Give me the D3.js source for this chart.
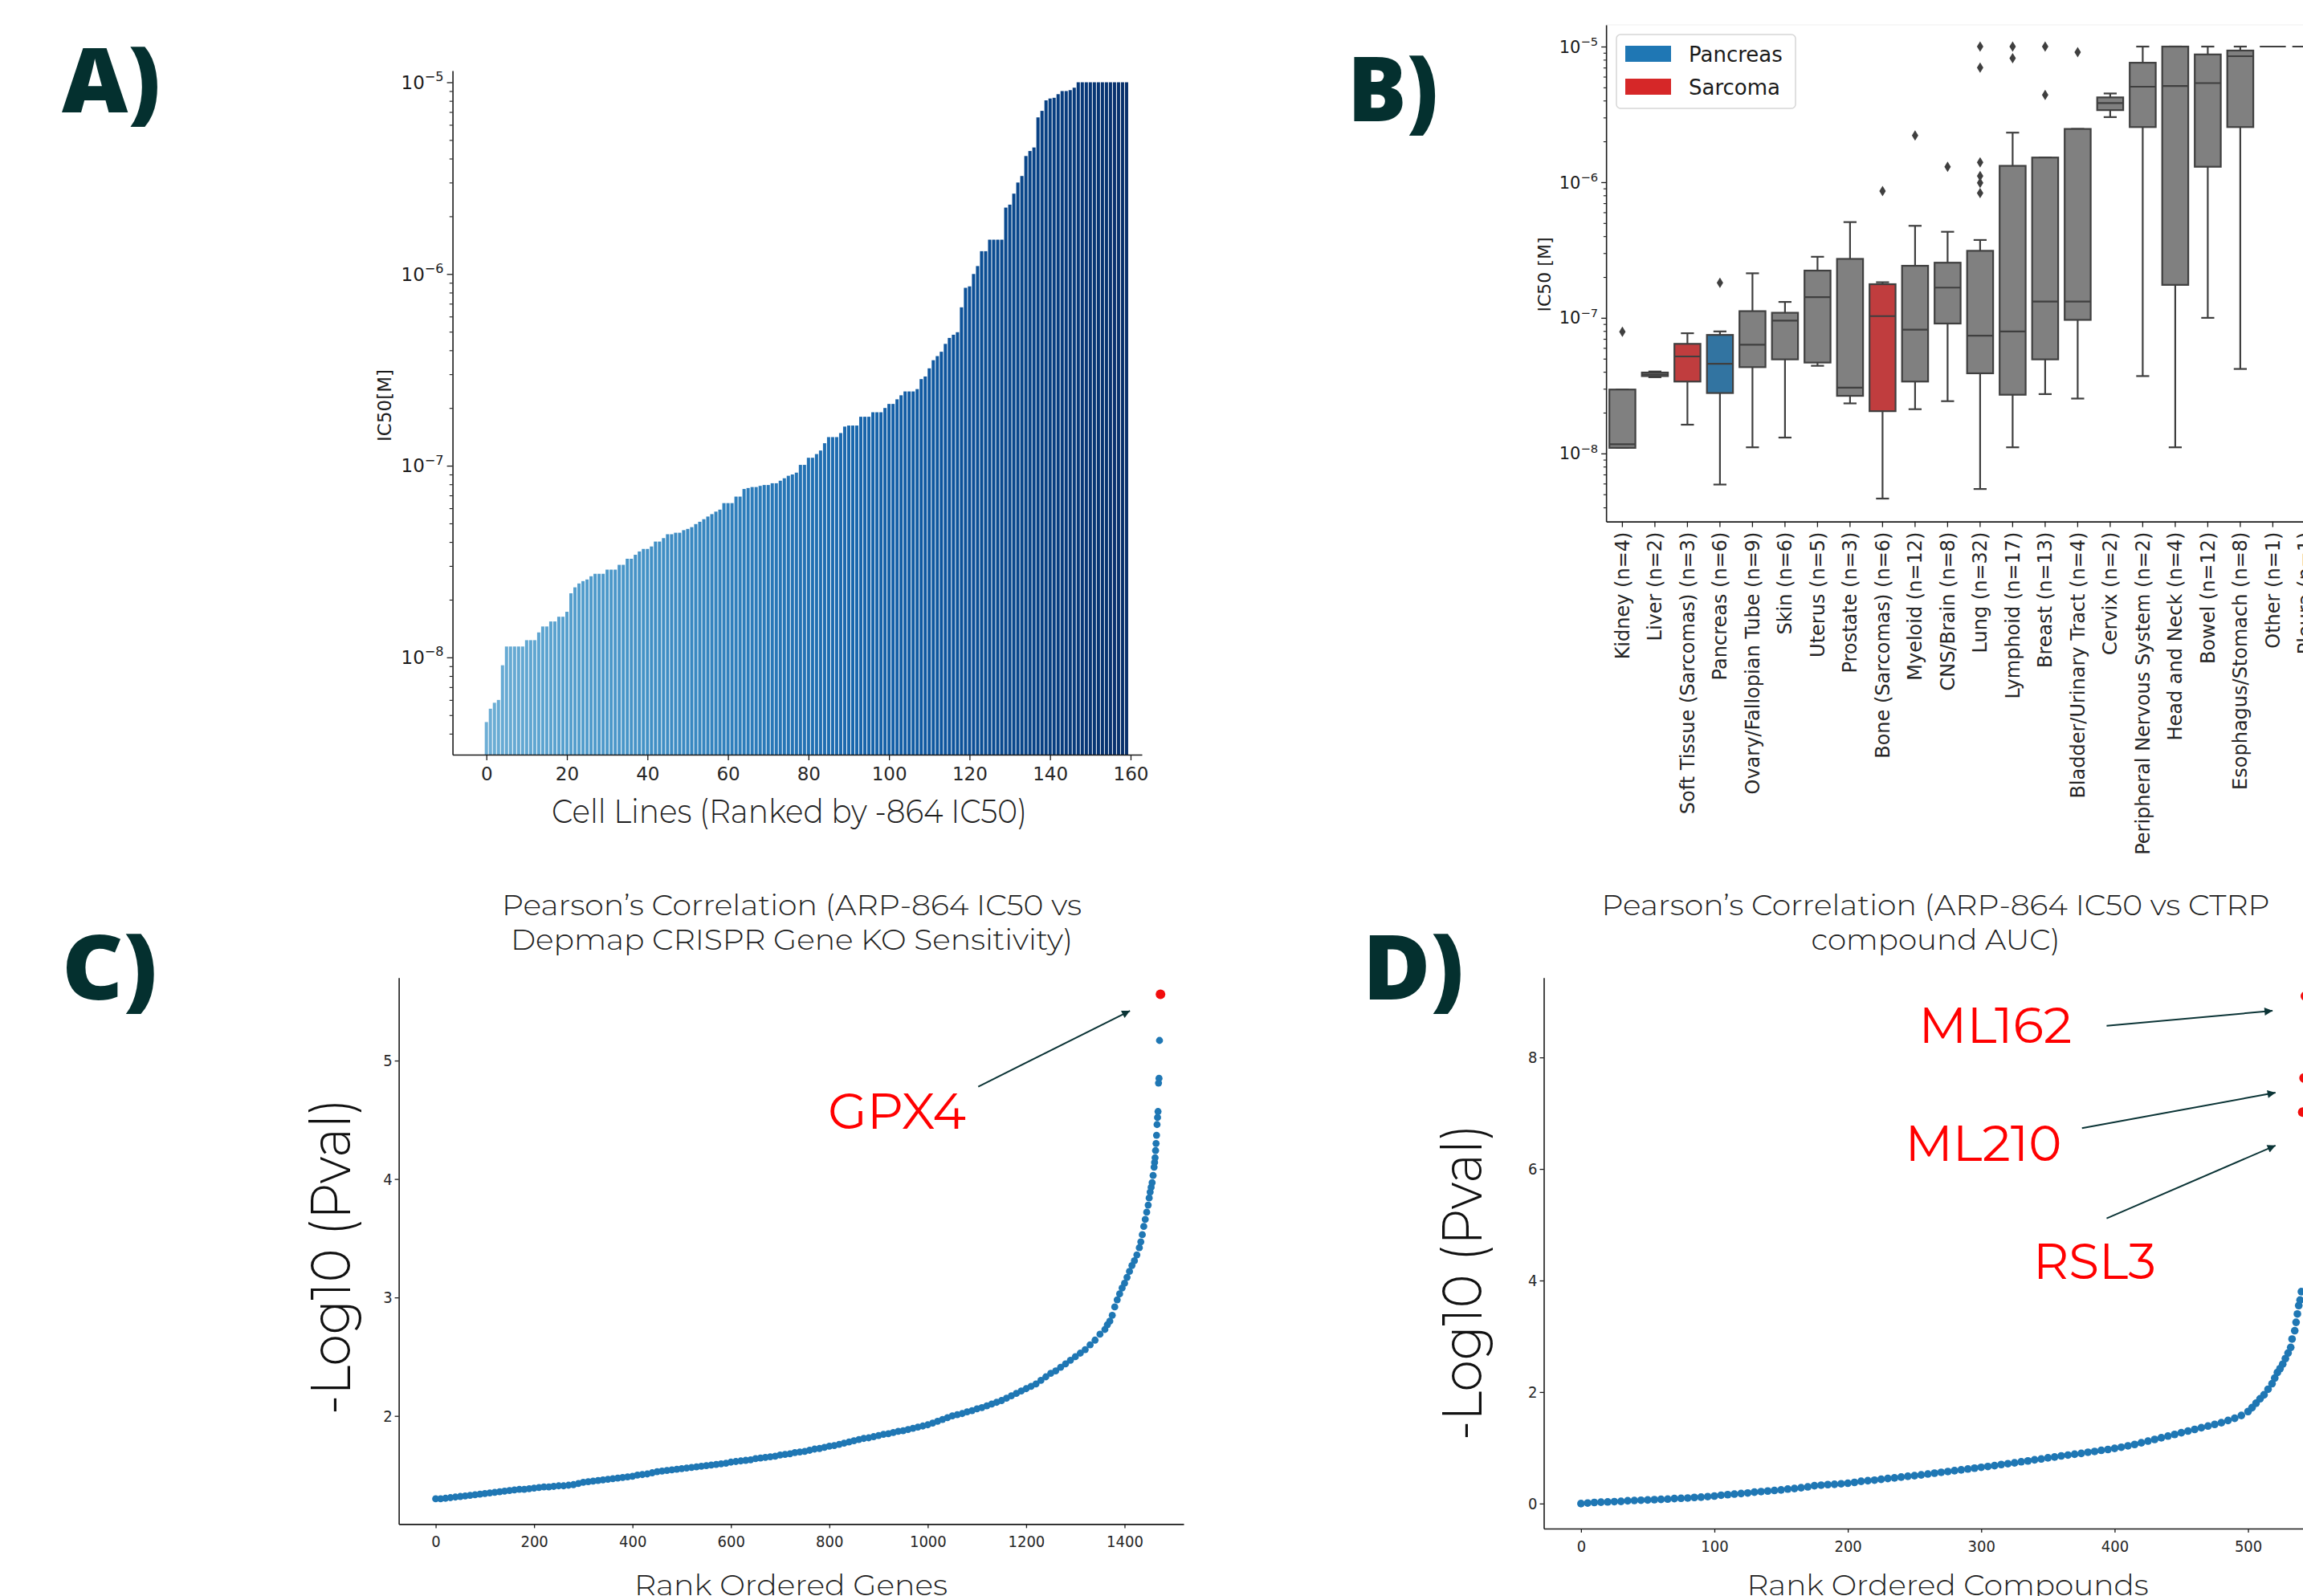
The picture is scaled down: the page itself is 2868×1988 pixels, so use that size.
<!DOCTYPE html>
<html>
<head>
<meta charset="utf-8">
<script src="https://cdn.jsdelivr.net/npm/d3@7"></script>
<style>
  body { margin: 0; background: #fff; }
  svg { display: block; }
</style>
</head>
<body>
<svg id="fig" width="2868" height="1988"></svg>
<script>
// ---------------- data ----------------

// A) IC50 per cell line, ranked (nM)
var cellLineIC50nM = [
  4.6, 5.4, 5.8, 6.0, 9.1, 11.4, 11.4, 11.4, 11.4, 11.4,
  12.3, 12.3, 12.3, 13.5, 14.5, 14.5, 15.4, 15.4, 16.3, 16.3,
  17.3, 21.6, 23.2, 24.3, 25.0, 25.5, 26.5, 27.3, 27.3, 27.3,
  28.7, 28.7, 28.7, 30.4, 30.4, 32.7, 32.7, 34.3, 35.7, 36.8,
  36.8, 37.9, 40.2, 40.2, 41.9, 43.9, 43.9, 44.7, 44.7, 46.1,
  46.8, 47.8, 49.6, 51.0, 52.6, 54.3, 55.9, 57.6, 59.0, 63.8,
  63.8, 63.8, 69.0, 69.0, 75.6, 76.5, 77.4, 77.4, 78.5, 79.3,
  79.3, 81.0, 81.0, 83.5, 86.0, 88.6, 90.0, 92.0, 101, 101,
  110, 110, 115, 120, 131, 141, 141, 141, 148, 160,
  162, 162, 162, 180, 180, 180, 190, 190, 190, 200,
  210, 210, 222, 233, 244, 244, 244, 251, 283, 292,
  322, 355, 373, 393, 432, 464, 482, 497, 670, 847,
  862, 1000, 1100, 1315, 1315, 1510, 1510, 1510, 1510, 2220,
  2300, 2625, 3000, 3245, 4125, 4380, 4570, 6560, 7095, 8050,
  8230, 8300, 8670, 9000, 9000, 9100, 9370, 10000, 10000, 10000,
  10000, 10000, 10000, 10000, 10000, 10000, 10000, 10000, 10000, 10000
];
var cellLineTicks = [0, 20, 40, 60, 80, 100, 120, 140, 160];

// B) IC50 by tissue (M)
var tissues = ["Kidney", "Liver", "Soft Tissue (Sarcomas)", "Pancreas", "Ovary/Fallopian Tube",
  "Skin", "Uterus", "Prostate", "Bone (Sarcomas)", "Myeloid", "CNS/Brain", "Lung", "Lymphoid",
  "Breast", "Bladder/Urinary Tract", "Cervix", "Peripheral Nervous System", "Head and Neck",
  "Bowel", "Esophagus/Stomach", "Other", "Pleura"];
var tissueN = [4, 2, 3, 6, 9, 6, 5, 3, 6, 12, 8, 32, 17, 13, 4, 2, 2, 4, 12, 8, 1, 1];
var tissueGroup = ["other", "other", "Sarcoma", "Pancreas", "other", "other", "other", "other",
  "Sarcoma", "other", "other", "other", "other", "other", "other", "other", "other", "other",
  "other", "other", "other", "other"];
var boxLow  = [1.10e-8, 3.65e-8, 1.63e-8, 5.9e-9, 1.11e-8, 1.31e-8, 4.43e-8, 2.34e-8, 4.65e-9, 2.12e-8,
  2.43e-8, 5.47e-9, 1.11e-8, 2.74e-8, 2.54e-8, 3.02e-6, 3.72e-8, 1.11e-8, 1.0e-7, 4.2e-8, 1e-5, 1e-5];
var boxQ1   = [1.10e-8, 3.72e-8, 3.39e-8, 2.79e-8, 4.33e-8, 4.94e-8, 4.68e-8, 2.66e-8, 2.05e-8, 3.39e-8,
  9.08e-8, 3.9e-8, 2.71e-8, 4.94e-8, 9.66e-8, 3.40e-6, 2.55e-6, 1.75e-7, 1.30e-6, 2.55e-6, 1e-5, 1e-5];
var boxMed  = [1.17e-8, 3.82e-8, 5.19e-8, 4.59e-8, 6.34e-8, 9.53e-8, 1.42e-7, 3.06e-8, 1.03e-7, 8.18e-8,
  1.67e-7, 7.38e-8, 7.94e-8, 1.32e-7, 1.32e-7, 3.83e-6, 5.06e-6, 5.12e-6, 5.38e-6, 8.49e-6, 1e-5, 1e-5];
var boxQ3   = [2.96e-8, 3.95e-8, 6.43e-8, 7.48e-8, 1.12e-7, 1.09e-7, 2.23e-7, 2.72e-7, 1.77e-7, 2.42e-7,
  2.55e-7, 3.12e-7, 1.32e-6, 1.52e-6, 2.47e-6, 4.22e-6, 7.6e-6, 1e-5, 8.75e-6, 9.35e-6, 1e-5, 1e-5];
var boxHigh = [2.96e-8, 4.02e-8, 7.7e-8, 7.94e-8, 2.13e-7, 1.31e-7, 2.82e-7, 5.08e-7, 1.83e-7, 4.77e-7,
  4.31e-7, 3.75e-7, 2.32e-6, 1.52e-6, 2.47e-6, 4.51e-6, 1e-5, 1e-5, 1e-5, 1e-5, 1e-5, 1e-5];
var boxOutliers = [[7.9e-8], [], [], [1.81e-7], [], [], [], [], [8.6e-7], [2.21e-6],
  [1.30e-6], [1e-5, 7.0e-6, 1.40e-6, 1.11e-6, 9.9e-7, 8.3e-7], [1e-5, 8.2e-6], [1e-5, 4.4e-6], [9.1e-6],
  [], [], [], [], [], [], []];
var legendNames = ["Pancreas", "Sarcoma"];
var logMajors = [1e-8, 1e-7, 1e-6, 1e-5];

// C) gene KO correlation, rank vs -log10 p
var geneRank = [
  0, 10, 20, 30, 40, 50, 60, 70, 80, 90, 100, 110, 120, 130, 140, 150, 160, 170, 180, 190,
  200, 210, 220, 230, 240, 250, 260, 270, 280, 290, 300, 310, 320, 330, 340, 350, 360, 370, 380, 390,
  400, 410, 420, 430, 440, 450, 460, 470, 480, 490, 500, 510, 520, 530, 540, 550, 560, 570, 580, 590,
  600, 610, 620, 630, 640, 650, 660, 670, 680, 690, 700, 710, 720, 730, 740, 750, 760, 770, 780, 790,
  800, 810, 820, 830, 840, 850, 860, 870, 880, 890, 900, 910, 920, 930, 940, 950, 960, 970, 980, 990,
  1000, 1010, 1020, 1030, 1040, 1050, 1060, 1070, 1080, 1090, 1100, 1110, 1120, 1130, 1140, 1150,
  1160, 1170, 1180, 1190, 1200, 1210, 1220, 1230, 1240, 1250, 1260, 1270, 1280, 1290, 1300, 1310,
  1320, 1330, 1340, 1350, 1360, 1365, 1370, 1375, 1380, 1385, 1390, 1395, 1400, 1405, 1410, 1415,
  1420, 1425, 1430, 1433, 1436, 1439, 1442, 1445, 1448, 1450, 1452, 1454, 1456, 1458, 1460, 1461,
  1462, 1463, 1464, 1465, 1466, 1467, 1468, 1469, 1470, 1471
];
var geneLogP = [
  1.30, 1.30, 1.305, 1.31, 1.315, 1.32, 1.325, 1.33, 1.335, 1.34, 1.345, 1.35, 1.355, 1.36, 1.365, 1.37, 1.375, 1.38, 1.38, 1.385,
  1.39, 1.395, 1.40, 1.40, 1.405, 1.41, 1.41, 1.415, 1.42, 1.43, 1.44, 1.445, 1.45, 1.455, 1.46, 1.465, 1.47, 1.475, 1.48, 1.485,
  1.49, 1.50, 1.505, 1.51, 1.52, 1.53, 1.535, 1.54, 1.545, 1.55, 1.555, 1.56, 1.565, 1.57, 1.575, 1.58, 1.585, 1.59, 1.595, 1.60,
  1.61, 1.615, 1.62, 1.625, 1.63, 1.64, 1.645, 1.65, 1.655, 1.66, 1.67, 1.675, 1.68, 1.69, 1.695, 1.70, 1.71, 1.72, 1.725, 1.735,
  1.745, 1.75, 1.76, 1.77, 1.78, 1.79, 1.80, 1.81, 1.815, 1.825, 1.835, 1.845, 1.85, 1.86, 1.87, 1.875, 1.885, 1.895, 1.905, 1.915,
  1.925, 1.94, 1.955, 1.97, 1.985, 2.00, 2.01, 2.02, 2.035, 2.045, 2.06, 2.07, 2.085, 2.10, 2.115, 2.13,
  2.15, 2.17, 2.19, 2.21, 2.23, 2.25, 2.27, 2.30, 2.33, 2.36, 2.38, 2.41, 2.44, 2.47, 2.50, 2.53,
  2.56, 2.60, 2.64, 2.69, 2.73, 2.77, 2.80, 2.85, 2.92, 2.98, 3.03, 3.08, 3.12, 3.17, 3.22, 3.27,
  3.31, 3.36, 3.42, 3.47, 3.53, 3.60, 3.66, 3.72, 3.78, 3.84, 3.89, 3.93, 3.97, 4.03, 4.10, 4.14,
  4.18, 4.24, 4.30, 4.37, 4.46, 4.52, 4.57, 4.81, 4.85, 5.17
];
var hitGene = ["GPX4"], hitGeneRank = [1473], hitGeneLogP = [5.56];

// D) compound AUC correlation, rank vs -log10 p
var compoundRank = [
  0, 5, 10, 15, 20, 25, 30, 35, 40, 45, 50, 55, 60, 65, 70, 75, 80, 85, 90, 95,
  100, 105, 110, 115, 120, 125, 130, 135, 140, 145, 150, 155, 160, 165, 170, 175, 180, 185, 190, 195,
  200, 205, 210, 215, 220, 225, 230, 235, 240, 245, 250, 255, 260, 265, 270, 275, 280, 285, 290, 295,
  300, 305, 310, 315, 320, 325, 330, 335, 340, 345, 350, 355, 360, 365, 370, 375, 380, 385, 390, 395,
  400, 405, 410, 415, 420, 425, 430, 435, 440, 445, 450, 455, 460, 465, 470, 475, 480, 485, 490, 495,
  500, 503, 506, 509, 512, 515, 518, 520, 522, 524, 526, 528, 530, 532, 533, 535, 536, 537, 538, 539, 540
];
var compoundLogP = [
  0.00, 0.01, 0.02, 0.025, 0.03, 0.035, 0.04, 0.05, 0.055, 0.06, 0.065, 0.07, 0.075, 0.08, 0.09, 0.095, 0.10, 0.11, 0.115, 0.125,
  0.135, 0.15, 0.16, 0.17, 0.18, 0.19, 0.205, 0.215, 0.225, 0.235, 0.245, 0.26, 0.27, 0.285, 0.30, 0.32, 0.33, 0.34, 0.345, 0.355,
  0.365, 0.38, 0.40, 0.41, 0.42, 0.435, 0.45, 0.46, 0.475, 0.49, 0.50, 0.515, 0.53, 0.545, 0.56, 0.575, 0.59, 0.605, 0.62, 0.635,
  0.65, 0.665, 0.68, 0.70, 0.715, 0.73, 0.75, 0.765, 0.785, 0.80, 0.82, 0.835, 0.855, 0.87, 0.885, 0.90, 0.92, 0.935, 0.955, 0.97,
  0.99, 1.01, 1.035, 1.06, 1.09, 1.12, 1.15, 1.18, 1.21, 1.24, 1.27, 1.30, 1.33, 1.36, 1.39, 1.42, 1.45, 1.49, 1.53, 1.58,
  1.65, 1.72, 1.80, 1.88, 1.95, 2.05, 2.15, 2.25, 2.35, 2.42, 2.50, 2.60, 2.70, 2.80, 2.95, 3.10, 3.25, 3.40, 3.55, 3.65, 3.80
];
var hitCompounds = ["RSL3", "ML210", "ML162"];
var hitCompoundRank = [541, 542, 543];
var hitCompoundLogP = [7.02, 7.63, 9.10];

// ---------------- drawing ----------------
var svg = d3.select("#fig");
svg.append("rect").attr("width", 2868).attr("height", 1988).attr("fill", "#fff");

var mplFont = "'DejaVu Sans', sans-serif";
var narrowFont = "'DejaVu Sans Condensed', 'Liberation Sans Narrow', 'DejaVu Sans', sans-serif";
var headFont = "'Montserrat', 'Open Sans', 'Noto Sans', sans-serif";
var teal = "#04302f";

svg.append("defs").append("marker")
  .attr("id", "head")
  .attr("viewBox", "0 0 10 10")
  .attr("refX", 10).attr("refY", 5)
  .attr("markerUnits", "userSpaceOnUse")
  .attr("markerWidth", 15).attr("markerHeight", 10)
  .attr("orient", "auto")
  .append("path").attr("d", "M0,0L10,5L0,10z").attr("fill", "#0b3436");

function styleAxis(g, size, family) {
  g.select(".domain").attr("stroke", "#1a1a1a").attr("stroke-width", 1.6);
  g.selectAll(".tick line").attr("stroke", "#1a1a1a").attr("stroke-width", 1.3);
  g.selectAll(".tick text").attr("font-size", size).attr("font-family", family).attr("fill", "#262626");
}

function headText(g, txt, x, y, size, width, opts) {
  opts = opts || {};
  var t = g.append("text")
    .attr("x", x).attr("y", y)
    .attr("font-family", opts.family || headFont)
    .attr("font-size", size)
    .attr("font-weight", opts.weight || 400)
    .attr("fill", opts.fill || "#1e1e1e")
    .attr("text-anchor", opts.anchor || "start")
    .text(txt);
  if (opts.rotate) t.attr("transform", "rotate(-90," + x + "," + y + ")");
  if (width) t.attr("textLength", width).attr("lengthAdjust", "spacingAndGlyphs");
  return t;
}

function panelLabel(txt, x, y, width) {
  headText(svg, txt, x, y, 112, width, { weight: 800, fill: teal, family: "'Open Sans', 'Lato', sans-serif" });
}

// log axis with 10^n labels and minor ticks
function logAxisLeft(g, y, x0, size, tickLen) {
  var ax = g.append("g").attr("transform", "translate(" + x0 + ",0)")
    .call(d3.axisLeft(y).tickValues(logMajors).tickFormat("").tickSize(tickLen).tickSizeOuter(0));
  styleAxis(ax, size, mplFont);
  var dom = y.domain(), minors = [];
  for (var e = -10; e <= -4; e++) {
    for (var m = 2; m <= 9; m++) {
      var v = m * Math.pow(10, e);
      if (v > dom[0] && v < dom[1]) minors.push(v);
    }
  }
  var mn = g.append("g").attr("transform", "translate(" + x0 + ",0)")
    .call(d3.axisLeft(y).tickValues(minors).tickFormat("").tickSize(tickLen * 0.55).tickSizeOuter(0));
  mn.select(".domain").remove();
  mn.selectAll(".tick line").attr("stroke", "#1a1a1a").attr("stroke-width", 1.1);
  logMajors.forEach(function (v) {
    var t = g.append("text")
      .attr("x", x0 - tickLen - 4).attr("y", y(v) + size * 0.36)
      .attr("text-anchor", "end")
      .attr("font-family", mplFont).attr("font-size", size).attr("fill", "#1a1a1a");
    t.append("tspan").text("10");
    t.append("tspan").attr("dy", -size * 0.42).attr("font-size", size * 0.7)
      .text("\u2212" + Math.round(-Math.log10(v)));
  });
}

// ---- Panel A ----
(function () {
  var g = svg.append("g");
  var x = d3.scaleLinear().domain([-8.4, 162.8]).range([563.6, 1422]);
  var y = d3.scaleLog().domain([3.11e-9, 1.15e-5]).range([940, 88]);
  var n = cellLineIC50nM.length;

  g.selectAll("rect.bar").data(cellLineIC50nM).join("rect")
    .attr("class", "bar")
    .attr("x", function (d, i) { return x(i - 0.4); })
    .attr("width", x(0.8) - x(0))
    .attr("y", function (d) { return y(d * 1e-9); })
    .attr("height", function (d) { return y.range()[0] - y(d * 1e-9); })
    .attr("fill", function (d, i) { return d3.interpolateBlues(0.5 + 0.5 * i / (n - 1)); });

  var ax = g.append("g").attr("transform", "translate(0,940)")
    .call(d3.axisBottom(x).tickValues(cellLineTicks).tickSize(7).tickSizeOuter(0));
  styleAxis(ax, 23, mplFont);
  ax.selectAll(".tick text").attr("dy", "0.95em");

  logAxisLeft(g, y, 563.6, 23, 7);

  g.append("text").attr("transform", "translate(487,505) rotate(-90)")
    .attr("text-anchor", "middle").attr("font-family", mplFont).attr("font-size", 23)
    .attr("fill", "#1a1a1a").text("IC50[M]");

  headText(g, "Cell Lines (Ranked by -864 IC50)", 983, 1025, 42, 592, { anchor: "middle", weight: 300 });
  panelLabel("A)", 77, 140, 123);
})();

// ---- Panel B ----
(function () {
  var g = svg.append("g");
  var bandW = 40.5;
  var x = d3.scaleBand().domain(tissues).range([2000.15, 2000.15 + bandW * tissues.length]);
  var y = d3.scaleLog().domain([3.15e-9, 1.445e-5]).range([649.6, 31]);
  var boxW = bandW * 0.8;
  var fill = { Pancreas: "#3274a1", Sarcoma: "#c03d3e", other: "#808080" };
  var legendFill = { Pancreas: "#1f77b4", Sarcoma: "#d62728" };
  var line = "#3f3f3f";

  g.append("line").attr("x1", 2000).attr("x2", 2868).attr("y1", 31).attr("y2", 31)
    .attr("stroke", "#efefef").attr("stroke-width", 1);

  var boxes = g.selectAll("g.box").data(tissues).join("g").attr("class", "box")
    .attr("transform", function (d) { return "translate(" + (x(d) + bandW / 2) + ",0)"; });

  boxes.each(function (t, i) {
    var b = d3.select(this);
    if (tissueN[i] > 1) {
      b.append("line").attr("y1", y(boxLow[i])).attr("y2", y(boxQ1[i]))
        .attr("stroke", line).attr("stroke-width", 2.2);
      b.append("line").attr("y1", y(boxQ3[i])).attr("y2", y(boxHigh[i]))
        .attr("stroke", line).attr("stroke-width", 2.2);
      [boxLow[i], boxHigh[i]].forEach(function (v) {
        b.append("line").attr("x1", -boxW / 4).attr("x2", boxW / 4)
          .attr("y1", y(v)).attr("y2", y(v)).attr("stroke", line).attr("stroke-width", 2.2);
      });
      b.append("rect").attr("x", -boxW / 2).attr("width", boxW)
        .attr("y", y(boxQ3[i])).attr("height", Math.max(2, y(boxQ1[i]) - y(boxQ3[i])))
        .attr("fill", fill[tissueGroup[i]]).attr("stroke", line).attr("stroke-width", 2.2);
    }
    b.append("line").attr("x1", -boxW / 2).attr("x2", boxW / 2)
      .attr("y1", y(boxMed[i])).attr("y2", y(boxMed[i]))
      .attr("stroke", line).attr("stroke-width", 2.2);
    b.selectAll("path.out").data(boxOutliers[i]).join("path").attr("class", "out")
      .attr("transform", function (v) { return "translate(0," + y(v) + ")"; })
      .attr("d", "M0,-6.5L4,0L0,6.5L-4,0Z").attr("fill", line);
  });

  var ax = g.append("g").attr("transform", "translate(0,649.6)")
    .call(d3.axisBottom(x).tickSize(7).tickSizeOuter(0)
      .tickFormat(function (d, i) { return d + " (n=" + tissueN[i] + ")"; }));
  styleAxis(ax, 24, mplFont);
  ax.selectAll(".tick text")
    .attr("transform", "rotate(-90)")
    .attr("text-anchor", "end")
    .attr("x", -13).attr("y", 0).attr("dy", "0.35em");

  logAxisLeft(g, y, 2000.15, 21, 6);

  g.append("text").attr("transform", "translate(1931,342) rotate(-90)")
    .attr("text-anchor", "middle").attr("font-family", mplFont).attr("font-size", 22)
    .attr("fill", "#1a1a1a").text("IC50 [M]");

  // legend
  var lg = g.append("g");
  lg.append("rect").attr("x", 2013).attr("y", 43).attr("width", 223).attr("height", 92)
    .attr("rx", 5).attr("fill", "#fff").attr("fill-opacity", 0.85)
    .attr("stroke", "#d6d6d6").attr("stroke-width", 1.5);
  legendNames.forEach(function (name, k) {
    lg.append("rect").attr("x", 2024).attr("y", 57 + 41 * k).attr("width", 57).attr("height", 20)
      .attr("fill", legendFill[name]);
    lg.append("text").attr("x", 2103).attr("y", 77 + 41 * k)
      .attr("font-family", mplFont).attr("font-size", 26).attr("fill", "#1a1a1a").text(name);
  });

  panelLabel("B)", 1678, 151, 113);
})();

// ---- scatter panels C and D ----
function scatterPanel(cfg) {
  var g = svg.append("g");
  var x = d3.scaleLinear().domain(cfg.xDomain).range(cfg.xRange);
  var y = d3.scaleLinear().domain(cfg.yDomain).range(cfg.yRange);

  g.selectAll("circle.pt").data(cfg.ranks).join("circle").attr("class", "pt")
    .attr("cx", function (d) { return x(d); })
    .attr("cy", function (d, i) { return y(cfg.values[i]); })
    .attr("r", cfg.dotR).attr("fill", "#1f77b4");

  g.selectAll("circle.hit").data(cfg.hitRanks).join("circle").attr("class", "hit")
    .attr("cx", function (d) { return x(d); })
    .attr("cy", function (d, i) { return y(cfg.hitValues[i]); })
    .attr("r", 6).attr("fill", "#f20d0d");

  var ax = g.append("g").attr("transform", "translate(0," + cfg.yRange[0] + ")")
    .call(d3.axisBottom(x).tickValues(cfg.xTicks).tickFormat(d3.format("d")).tickSize(5).tickSizeOuter(0));
  styleAxis(ax, 20, narrowFont);
  ax.selectAll(".tick text").attr("dy", "1.05em");
  var ay = g.append("g").attr("transform", "translate(" + cfg.xRange[0] + ",0)")
    .call(d3.axisLeft(y).tickValues(cfg.yTicks).tickFormat(d3.format("d")).tickSize(5).tickSizeOuter(0));
  styleAxis(ay, 20, narrowFont);

  // annotations
  cfg.notes.forEach(function (n) {
    g.append("line")
      .attr("x1", x(n.from[0])).attr("y1", y(n.from[1]))
      .attr("x2", x(n.to[0])).attr("y2", y(n.to[1]))
      .attr("stroke", "#0b3436").attr("stroke-width", 2).attr("marker-end", "url(#head)");
    headText(g, n.label, x(n.at[0]), y(n.at[1]), 62, n.width, { fill: "#ff0000" });
  });

  cfg.title.forEach(function (line, k) {
    headText(g, line, cfg.titleX, cfg.titleY[k], 36, cfg.titleW[k], { anchor: "middle", weight: 300 });
  });
  headText(g, "-Log10 (Pval)", cfg.yLabelX, cfg.yLabelY, 70, 394, { anchor: "middle", weight: 300, rotate: true, fill: "#111" });
  headText(g, cfg.xLabel, cfg.xLabelX, 1987, 36, cfg.xLabelW, { anchor: "middle", weight: 300 });
  panelLabel(cfg.panel, cfg.panelX, 1245, cfg.panelW);
}

scatterPanel({
  ranks: geneRank, values: geneLogP, hitRanks: hitGeneRank, hitValues: hitGeneLogP, dotR: 4.4,
  xDomain: [-75, 1520], xRange: [496.6, 1474],
  yDomain: [1.087, 5.70], yRange: [1898.4, 1217.8],
  xTicks: [0, 200, 400, 600, 800, 1000, 1200, 1400], yTicks: [2, 3, 4, 5],
  notes: [{ label: hitGene[0], at: [797, 4.424], width: 172, from: [1102.6, 4.78], to: [1411, 5.42] }],
  title: ["Pearson\u2019s Correlation (ARP-864 IC50 vs", "Depmap CRISPR Gene KO Sensitivity)"],
  titleX: 986, titleY: [1139.6, 1183], titleW: [722, 700],
  yLabelX: 436, yLabelY: 1565,
  xLabel: "Rank Ordered Genes", xLabelX: 985, xLabelW: 390,
  panel: "C)", panelX: 77, panelW: 119
});

scatterPanel({
  ranks: compoundRank, values: compoundLogP, hitRanks: hitCompoundRank, hitValues: hitCompoundLogP, dotR: 4.8,
  xDomain: [-27.9, 600], xRange: [1922.5, 2965.7],
  yDomain: [-0.448, 9.43], yRange: [1904, 1217.8],
  xTicks: [0, 100, 200, 300, 400, 500], yTicks: [0, 2, 4, 6, 8],
  notes: [
    { label: hitCompounds[2], at: [253.2, 8.265], width: 191, from: [394, 8.566], to: [518.4, 8.836] },
    { label: hitCompounds[1], at: [242.9, 6.144], width: 195, from: [375.5, 6.731], to: [520.6, 7.368] },
    { label: hitCompounds[0], at: [338.9, 4.022], width: 153, from: [394, 5.115], to: [520.6, 6.421] }
  ],
  title: ["Pearson\u2019s Correlation (ARP-864 IC50 vs CTRP", "compound AUC)"],
  titleX: 2410.6, titleY: [1139.6, 1183], titleW: [832, 310],
  yLabelX: 1845, yLabelY: 1597,
  xLabel: "Rank Ordered Compounds", xLabelX: 2425.6, xLabelW: 500,
  panel: "D)", panelX: 1697, panelW: 126
});
</script>
</body>
</html>
